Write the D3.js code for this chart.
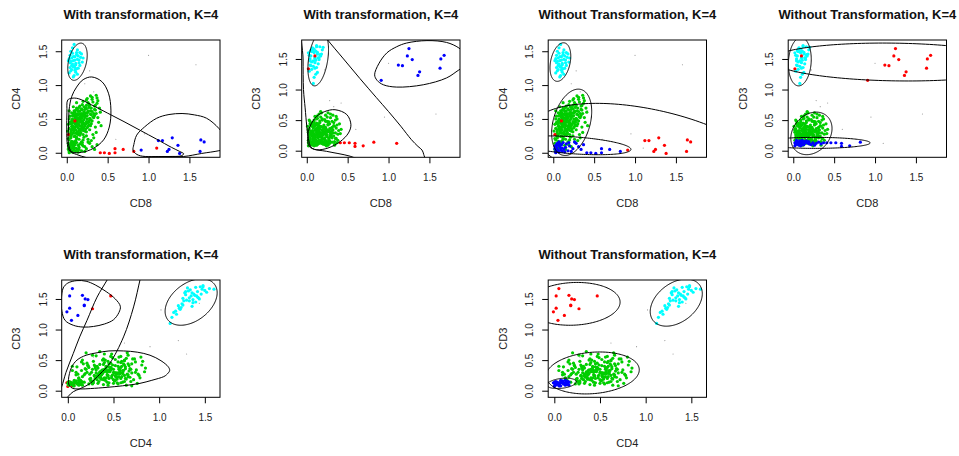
<!DOCTYPE html>
<html>
<head>
<meta charset="utf-8">
<script src="https://cdn.jsdelivr.net/npm/d3@7"></script>
<style>
  body { margin: 0; background: #ffffff; }
  svg { display: block; }
</style>
</head>
<body>
<svg id="chart" width="959" height="456"></svg>
<script>
// ---- markers, axis limits and ticks ----
const markers = ["CD8", "CD4", "CD3"];
const markerLimits = [[-0.062, 1.874], [-0.067, 1.666], [-0.108, 1.81]];
const tickValues = [0, 0.5, 1.0, 1.5];
const tickLabels = ["0.0", "0.5", "1.0", "1.5"];
const panelTitles = ["With transformation, K=4", "With transformation, K=4",
  "Without Transformation, K=4", "Without Transformation, K=4",
  "With transformation, K=4", "Without Transformation, K=4"];

// ---- cells, each [CD8, CD4, CD3] ----
const strayCells = [[1.00,1.44,1.43],[0.28,1.21,0.82],[0.42,0.62,0.78],[0.33,0.90,0.72],
  [0.95,0.28,0.55],[0.60,0.20,0.35],[0.22,1.02,1.32],[1.58,1.30,0.60]];

const mainCells = [
  [0.04,0.12,0.21],[0.07,0.15,0.33],[0.11,0.18,0.14],[0.05,0.22,0.41],[0.14,0.11,0.27],[0.09,0.24,0.19],[0.03,0.19,0.36],[0.18,0.16,0.23],
  [0.06,0.27,0.12],[0.12,0.21,0.45],[0.16,0.26,0.30],[0.02,0.14,0.17],[0.08,0.29,0.25],[0.21,0.23,0.38],[0.10,0.13,0.10],[0.13,0.28,0.16],
  [0.05,0.31,0.29],[0.09,0.35,0.43],[0.15,0.33,0.12],[0.19,0.38,0.34],[0.03,0.36,0.22],[0.12,0.39,0.52],[0.22,0.32,0.18],[0.07,0.40,0.31],
  [0.17,0.30,0.40],[0.25,0.37,0.26],[0.11,0.34,0.15],[0.04,0.28,0.48],[0.14,0.42,0.21],[0.20,0.27,0.11],[0.08,0.33,0.37],[0.27,0.41,0.33],
  [0.06,0.44,0.24],[0.10,0.47,0.56],[0.16,0.45,0.13],[0.21,0.49,0.42],[0.13,0.52,0.29],[0.03,0.50,0.18],[0.24,0.46,0.35],[0.18,0.53,0.22],
  [0.09,0.55,0.47],[0.28,0.51,0.16],[0.15,0.48,0.60],[0.05,0.43,0.32],[0.19,0.41,0.50],[0.23,0.54,0.27],[0.12,0.44,0.09],[0.31,0.47,0.38],
  [0.08,0.58,0.20],[0.14,0.61,0.44],[0.20,0.57,0.31],[0.26,0.60,0.14],[0.11,0.63,0.36],[0.17,0.56,0.55],[0.29,0.62,0.25],[0.06,0.59,0.40],
  [0.22,0.64,0.19],[0.13,0.57,0.28],[0.33,0.58,0.46],[0.18,0.65,0.62],[0.25,0.55,0.11],[0.10,0.60,0.33],[0.30,0.66,0.23],[0.16,0.62,0.49],
  [0.21,0.68,0.36],[0.27,0.72,0.18],[0.35,0.70,0.29],[0.15,0.67,0.41],[0.32,0.75,0.34],[0.24,0.78,0.25],[0.37,0.81,0.42],[0.29,0.84,0.31],
  [0.19,0.71,0.52],[0.34,0.69,0.15],[0.26,0.74,0.47],[0.38,0.77,0.27],[0.23,0.66,0.58],[0.36,0.85,0.37],[0.31,0.79,0.21],[0.28,0.70,0.44],
  [0.03,0.09,0.26],[0.06,0.17,0.44],[0.10,0.25,0.20],[0.15,0.20,0.35],[0.04,0.26,0.15],[0.20,0.19,0.28],[0.08,0.10,0.39],[0.12,0.23,0.11],
  [0.17,0.29,0.24],[0.02,0.21,0.30],[0.24,0.25,0.16],[0.09,0.16,0.50],[0.13,0.30,0.37],[0.07,0.07,0.13],[0.19,0.12,0.20],[0.05,0.24,0.27],
  [0.10,0.37,0.19],[0.16,0.40,0.46],[0.23,0.35,0.31],[0.06,0.39,0.10],[0.13,0.31,0.57],[0.28,0.34,0.22],[0.02,0.42,0.35],[0.18,0.36,0.27],
  [0.21,0.43,0.14],[0.09,0.32,0.24],[0.26,0.39,0.43],[0.14,0.37,0.33],[0.04,0.45,0.44],[0.30,0.43,0.30],[0.11,0.41,0.17],[0.17,0.34,0.28],
  [0.07,0.50,0.30],[0.22,0.52,0.51],[0.12,0.49,0.26],[0.27,0.45,0.20],[0.16,0.58,0.38],[0.04,0.54,0.13],[0.32,0.53,0.29],[0.19,0.47,0.34],
  [0.10,0.52,0.41],[0.25,0.50,0.12],[0.14,0.56,0.23],[0.34,0.55,0.40],[0.08,0.48,0.21],[0.21,0.60,0.30],[0.29,0.49,0.54],[0.15,0.51,0.17],
  [0.12,0.66,0.26],[0.19,0.63,0.39],[0.27,0.67,0.32],[0.09,0.62,0.15],[0.23,0.59,0.48],[0.35,0.63,0.20],[0.16,0.69,0.35],[0.30,0.56,0.37],
  [0.07,0.55,0.29],[0.24,0.65,0.27],[0.20,0.54,0.19],[0.13,0.64,0.53],[0.31,0.61,0.33],[0.18,0.58,0.13],[0.26,0.62,0.42],[0.11,0.57,0.34],
  [0.14,0.27,0.35],[0.20,0.33,0.26],[0.08,0.45,0.39],[0.25,0.44,0.48],[0.11,0.29,0.42],[0.17,0.48,0.24],[0.05,0.34,0.27],[0.22,0.40,0.21],
  [0.13,0.46,0.32],[0.28,0.48,0.36],[0.09,0.38,0.28],[0.16,0.28,0.13],[0.24,0.31,0.34],[0.06,0.47,0.45],[0.19,0.44,0.25],[0.33,0.52,0.24],
  [0.15,0.35,0.23],[0.21,0.37,0.30],[0.10,0.43,0.26],[0.26,0.46,0.31],[0.18,0.39,0.18],[0.12,0.50,0.35],[0.23,0.42,0.38],[0.07,0.36,0.19],
  [0.16,0.53,0.27],[0.20,0.45,0.32],[0.29,0.57,0.28],[0.14,0.42,0.40],[0.11,0.54,0.22],[0.22,0.56,0.35],[0.18,0.51,0.29],[0.25,0.59,0.23],
  [0.36,0.30,0.20],[0.39,0.45,0.33],[0.33,0.22,0.41],[0.41,0.60,0.28],[0.35,0.38,0.50],[0.38,0.52,0.17],[0.40,0.66,0.44],[0.32,0.27,0.58],
  [0.37,0.73,0.52],[0.30,0.18,0.26],[0.34,0.64,0.09],[0.42,0.40,0.35],[0.27,0.15,0.47],[0.31,0.82,0.48],[0.25,0.80,0.55],[0.20,0.76,0.12],
  [0.12,0.74,0.30],[0.08,0.68,0.22],[0.03,0.62,0.50],[0.01,0.32,0.40],[0.02,0.05,0.33],[0.15,0.05,0.40],[0.22,0.09,0.30],[0.26,0.20,0.62],
  [0.17,0.35,0.64],[0.29,0.40,0.60],[0.36,0.58,0.56],[0.24,0.70,0.08]
];

const lowCD4Cells = [
  [0.03,0.02,0.10],[0.05,0.05,0.13],[0.07,0.01,0.09],[0.04,0.08,0.15],[0.09,0.04,0.11],[0.06,0.11,0.12],[0.02,0.06,0.08],[0.11,0.02,0.14],
  [0.08,0.09,0.16],[0.13,0.05,0.10],[0.05,0.14,0.11],[0.10,0.12,0.09],[0.03,0.00,0.12],[0.15,0.08,0.13],[0.07,0.16,0.14],[0.12,0.15,0.10],
  [0.18,0.03,0.12],[0.04,0.12,0.17],[0.20,0.10,0.11],[0.14,0.01,0.15],[0.09,0.07,0.08],[0.06,0.03,0.14],[0.24,0.06,0.13],[0.16,0.13,0.16],
  [0.28,0.14,0.12],[0.22,0.02,0.10],[0.31,0.09,0.14],[0.26,0.16,0.09],[0.34,0.05,0.11],[0.37,0.12,0.13],[0.02,0.10,0.13],[0.08,0.13,0.12],
  [0.11,0.07,0.17],[0.19,0.15,0.15]
];

const midCD8Cells = [[0.41,0.00,0.13],[0.46,0.00,0.13],[0.52,-0.01,0.13],[0.59,0.06,0.12],
  [0.59,0.00,0.07],[0.69,0.05,0.08],[0.82,0.02,0.14]];
const edgeCells = [[1.10,0.07,0.12]];

const cyanCells = [
  [0.05,1.35,1.55],[0.08,1.42,1.62],[0.11,1.30,1.48],[0.04,1.26,1.40],[0.13,1.38,1.58],[0.07,1.47,1.66],[0.10,1.22,1.35],[0.15,1.33,1.52],
  [0.06,1.40,1.45],[0.09,1.28,1.60],[0.12,1.45,1.70],[0.03,1.18,1.30],[0.14,1.25,1.42],[0.08,1.36,1.38],[0.17,1.41,1.55],[0.05,1.50,1.64],
  [0.11,1.19,1.25],[0.07,1.31,1.68],[0.13,1.52,1.61],[0.04,1.44,1.50],[0.10,1.37,1.44],[0.16,1.29,1.57],[0.06,1.23,1.33],[0.12,1.48,1.72],
  [0.09,1.14,1.20],[0.19,1.34,1.65],[0.03,1.39,1.56],[0.08,1.27,1.47],[0.14,1.43,1.52],[0.11,1.32,1.63],[0.05,1.21,1.39],[0.18,1.46,1.58],
  [0.07,1.55,1.67],[0.10,1.42,1.53],[0.13,1.16,1.28],[0.04,1.33,1.47],[0.09,1.60,1.66],[0.15,1.37,1.49],[0.06,1.29,1.62],[0.12,1.24,1.36],
  [0.08,1.12,1.10],[0.20,1.40,1.69],[0.02,1.36,1.60],[0.16,1.48,1.70],[0.10,1.26,1.51]
];

const highCD8Cells = [[0.91,0.04,1.15],[1.12,0.18,1.40],[1.17,0.18,1.39],[1.23,0.02,1.55],
  [1.25,0.05,1.67],[1.29,0.22,1.49],[1.36,0.11,1.23],[1.38,-0.01,1.29],
  [1.63,0.02,1.35],[1.64,0.19,1.50],[1.68,0.16,1.56]];
const pairCells = [[0.02,0.27,1.34],[0.10,0.47,1.55]];

// cell groups in drawing order, with their cluster under each fit
const cellGroups = [strayCells, midCD8Cells, edgeCells, mainCells, lowCD4Cells, cyanCells, highCD8Cells, pairCells];
const clusterWith    = ["gray", "red",  "red",  "green", "green", "cyan", "blue", "red"];
const clusterWithout = ["gray", "blue", "gray", "green", "blue",  "cyan", "red",  "red"];
const clusterColors = { gray: "#9a9a9a", green: "#00CD00", blue: "#0000FF", red: "#FF0000", cyan: "#00FFFF" };

// ---- cluster contours ----
// ellipses: [centre x, centre y, half-width x, half-height y, tilt correlation]
// outlines: boundary points in data units
const p1Green = [[0.305,1.12],[0.43,1.05],[0.51,0.88],[0.54,0.63],[0.52,0.38],[0.45,0.19],[0.325,0.065],[0.18,0.006],
  [0.06,0.015],[0.02,0.14],[0.022,0.38],[0.028,0.63],[0.06,0.83],[0.12,0.97],[0.2,1.08]];
const p1Red = [[0.012,0.78],[0.06,0.805],[0.14,0.80],[0.3,0.71],[0.5,0.585],[0.7,0.46],[0.9,0.33],[1.1,0.2],[1.28,0.08],
  [1.38,0.02],[1.43,-0.015],[1.40,-0.045],[1.25,-0.055],[1.05,-0.06],[0.85,-0.075],[0.6,-0.11],[0.4,-0.11],[0.25,-0.075],
  [0.12,-0.025],[0.04,0.02],[0.008,0.12],[0.0,0.35],[0.002,0.6]];
const p1Blue = [[0.81,0.04],[0.82,0.12],[0.855,0.26],[0.95,0.38],[1.1,0.51],[1.25,0.565],[1.41,0.58],[1.56,0.56],[1.71,0.51],
  [1.86,0.36],[1.95,0.2],[1.95,0.06],[1.86,0.03],[1.65,-0.01],[1.43,-0.055],[1.2,-0.055],[0.9,-0.045],[0.83,0.0]];
const p2Green = [[0.346,0.67],[0.49,0.59],[0.54,0.425],[0.51,0.29],[0.41,0.15],[0.26,0.044],[0.12,0.016],[0.03,0.07],
  [0.012,0.23],[0.04,0.40],[0.12,0.56],[0.22,0.64]];
const p2Red = [[-0.045,2.0],[-0.045,1.5],[-0.04,1.0],[-0.02,0.7],[0.0,0.40],[0.02,0.2],[0.06,0.044],[0.24,-0.01],[0.53,-0.09],
  [0.8,-0.22],[1.2,-0.25],[1.44,-0.15],[1.43,-0.06],[1.41,0.01],[1.36,0.07],[1.28,0.18],[1.15,0.40],[1.0,0.64],[0.85,0.87],
  [0.65,1.18],[0.45,1.5],[0.25,1.82],[0.15,2.0]];
const p2Blue = [[0.83,1.24],[0.88,1.42],[0.98,1.60],[1.1,1.70],[1.22,1.76],[1.47,1.80],[1.71,1.77],[1.86,1.68],[1.96,1.55],
  [1.98,1.42],[1.86,1.32],[1.71,1.19],[1.425,1.078],[1.10,1.04],[0.937,1.078],[0.86,1.15]];
const p5Blue = [[0.0,1.76],[0.1,1.80],[0.2,1.79],[0.3,1.73],[0.42,1.62],[0.52,1.50],[0.575,1.38],[0.56,1.28],[0.5,1.16],
  [0.4,1.09],[0.28,1.05],[0.17,1.04],[0.06,1.07],[-0.03,1.15],[-0.065,1.3],[-0.07,1.5],[-0.05,1.68]];
const p5Green = [[0.007,0.18],[0.04,0.38],[0.1,0.50],[0.2,0.58],[0.32,0.62],[0.45,0.65],[0.61,0.65],[0.76,0.63],[0.90,0.58],
  [1.02,0.49],[1.10,0.39],[1.115,0.33],[1.08,0.26],[1.05,0.23],[0.92,0.17],[0.79,0.12],[0.6,0.08],[0.43,0.055],[0.25,0.035],
  [0.135,0.028],[0.05,0.04],[0.015,0.09]];
const p5Red = [[-0.14,-0.25],[-0.09,0.0],[-0.066,0.07],[-0.02,0.3],[0.06,0.61],[0.13,0.88],[0.21,1.15],[0.32,1.53],[0.43,1.81],
  [0.5,2.0],[0.82,2.0],[0.79,1.81],[0.72,1.37],[0.61,0.88],[0.46,0.45],[0.35,0.27],[0.245,0.12],[0.13,0.03],[0.06,-0.016],
  [0.0,-0.1],[-0.05,-0.22]];

const panelEllipses = [
  [[0.131, 1.345, 0.119, 0.275, 0.35]],
  [[0.14, 1.5, 0.126, 0.44, 0.35]],
  [[0.087, 1.34, 0.127, 0.285, 0.3], [0.225, 0.45, 0.245, 0.49, 0.33], [0.25, 0.11, 0.70, 0.139, -0.43], [1.2, 0.0, 1.45, 0.73, -0.462]],
  [[0.08, 1.455, 0.14, 0.395, 0.1], [1.25, 1.45, 1.51, 0.31, -0.1], [0.222, 0.283, 0.252, 0.348, 0.23], [0.27, 0.128, 0.67, 0.09, 0.0]],
  [[1.35, 1.45, 0.285, 0.38, 0.4]],
  [[0.21, 1.42, 0.51, 0.35, 0.08], [1.335, 1.44, 0.285, 0.385, 0.38], [0.42, 0.29, 0.51, 0.343, 0.15], [0.08, 0.12, 0.16, 0.085, 0.3]]
];
const panelOutlines = [[p1Green, p1Red, p1Blue], [p2Green, p2Red, p2Blue], [], [], [p5Blue, p5Green, p5Red], []];

// ---- panel arrangement ----
const panelXVar = [0, 0, 0, 0, 1, 1];
const panelYVar = [1, 2, 1, 2, 2, 2];
const panelFit = ["with", "with", "without", "without", "with", "without"];
const panelCol = [0, 1, 2, 3, 0, 2];
const panelRow = [0, 0, 0, 0, 1, 1];
const colOffsets = [0, 240, 486.5, 726.5];
const rowOffsets = [0, 240];

const font = "'Liberation Sans', Arial, Helvetica, sans-serif";
const box = { left: 61.7, right: 220, top: 40, bottom: 157.3 };
const svg = d3.select("#chart");

function ellipseCurve(e) {
  const [cx, cy, rx, ry, rho] = e;
  const s = Math.sqrt(1 - rho * rho);
  return d3.range(0, 361, 2).map(deg => {
    const t = deg * Math.PI / 180;
    return [cx + rx * Math.cos(t), cy + ry * (rho * Math.cos(t) + s * Math.sin(t))];
  });
}

panelTitles.forEach((title, i) => {
  const ox = colOffsets[panelCol[i]], oy = rowOffsets[panelRow[i]];
  const L = ox + box.left, R = ox + box.right, T = oy + box.top, B = oy + box.bottom;
  const x = d3.scaleLinear().domain(markerLimits[panelXVar[i]]).range([L, R]);
  const y = d3.scaleLinear().domain(markerLimits[panelYVar[i]]).range([B, T]);
  const g = svg.append("g");

  const clipId = "plot-clip-" + i;
  g.append("clipPath").attr("id", clipId)
    .append("rect").attr("x", L).attr("y", T).attr("width", R - L).attr("height", B - T);
  const plot = g.append("g").attr("clip-path", `url(#${clipId})`);

  // cells
  const labels = panelFit[i] === "with" ? clusterWith : clusterWithout;
  cellGroups.forEach((cells, k) => {
    const colour = clusterColors[labels[k]];
    const stray = labels[k] === "gray";
    plot.append("g").selectAll("circle").data(cells).join("circle")
      .attr("cx", d => x(d[panelXVar[i]]))
      .attr("cy", d => y(d[panelYVar[i]]))
      .attr("r", stray ? 0.6 : 1.6)
      .attr("fill", colour);
  });

  // contours
  const line = d3.line().x(d => x(d[0])).y(d => y(d[1]));
  panelEllipses[i].forEach(e => {
    plot.append("path").attr("d", line(ellipseCurve(e)))
      .attr("fill", "none").attr("stroke", "#000").attr("stroke-width", 1);
  });
  const smooth = d3.line().x(d => x(d[0])).y(d => y(d[1])).curve(d3.curveCatmullRomClosed.alpha(0.5));
  panelOutlines[i].forEach(o => {
    plot.append("path").attr("d", smooth(o))
      .attr("fill", "none").attr("stroke", "#000").attr("stroke-width", 1);
  });

  // frame
  g.append("rect").attr("x", L).attr("y", T).attr("width", R - L).attr("height", B - T)
    .attr("fill", "none").attr("stroke", "#000").attr("stroke-width", 1);

  // x axis
  const xa = g.append("g").attr("transform", `translate(0,${B})`)
    .call(d3.axisBottom(x).tickValues(tickValues).tickFormat((d, j) => tickLabels[j])
      .tickSize(6).tickPadding(11));
  xa.select(".domain").remove();
  xa.selectAll("text").attr("font-size", 10).attr("font-family", font).attr("fill", "#222");

  // y axis, labels parallel to the axis
  const ya = g.append("g").attr("transform", `translate(${L},0)`)
    .call(d3.axisLeft(y).tickValues(tickValues).tickFormat((d, j) => tickLabels[j]).tickSize(6));
  ya.select(".domain").remove();
  ya.selectAll("text")
    .attr("x", null).attr("dy", null)
    .attr("transform", "translate(-15.2,0) rotate(-90)")
    .attr("text-anchor", "middle")
    .attr("font-size", 10).attr("font-family", font).attr("fill", "#222");

  // titles
  g.append("text").attr("x", (L + R) / 2).attr("y", T - 21.4)
    .attr("text-anchor", "middle").attr("font-family", font).attr("font-weight", "bold")
    .attr("font-size", 13).attr("fill", "#111").text(title);
  g.append("text").attr("x", (L + R) / 2).attr("y", B + 50)
    .attr("text-anchor", "middle").attr("font-family", font).attr("font-size", 11)
    .attr("fill", "#222").text(markers[panelXVar[i]]);
  g.append("text").attr("transform", `translate(${L - 41.7},${(T + B) / 2}) rotate(-90)`)
    .attr("text-anchor", "middle").attr("font-family", font).attr("font-size", 11)
    .attr("fill", "#222").text(markers[panelYVar[i]]);
});
</script>
</body>
</html>
